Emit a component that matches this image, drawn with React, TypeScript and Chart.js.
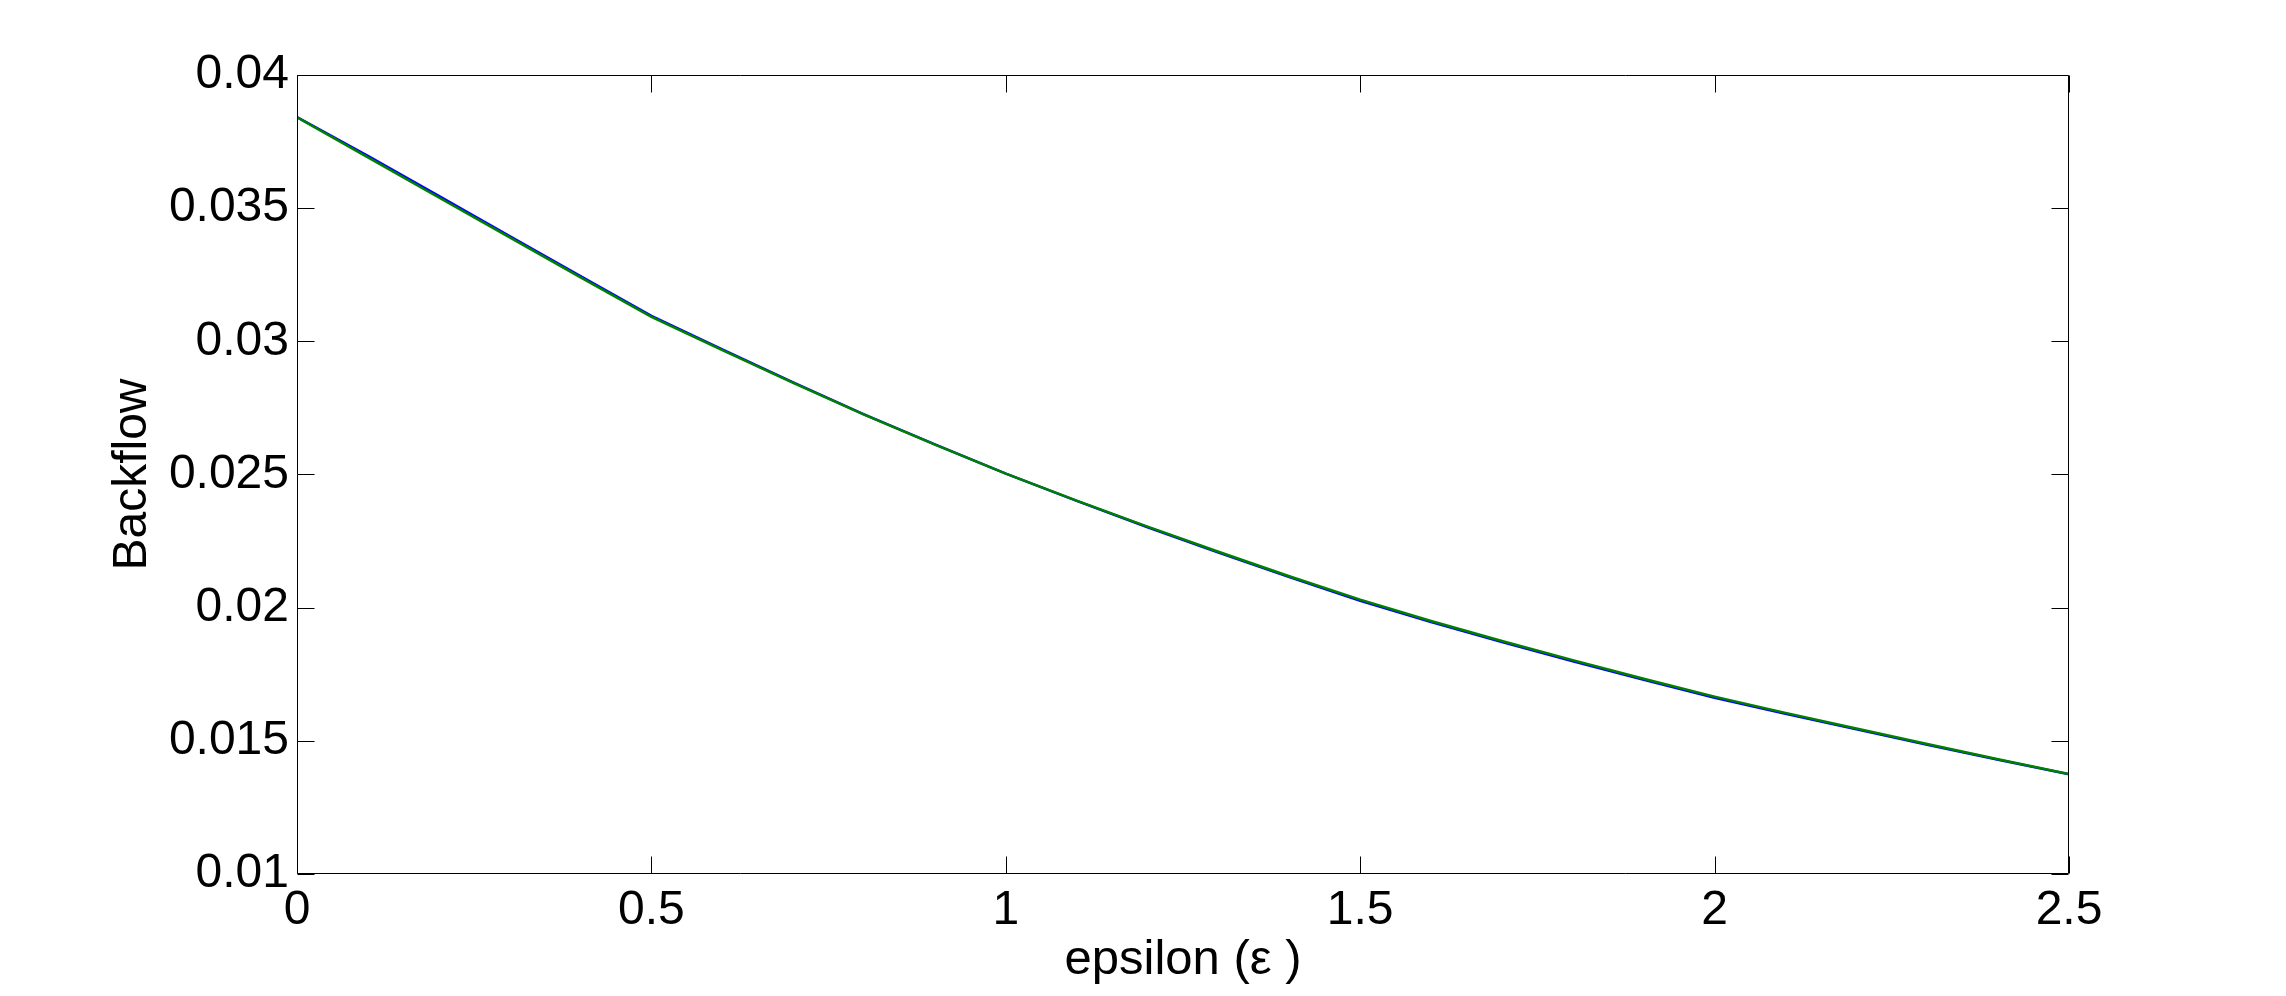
import React, { useEffect, useRef } from 'react';
import { Chart, registerables } from 'chart.js';

Chart.register(...registerables);

const xValues = [0, 0.1, 0.2, 0.3, 0.4, 0.5, 0.6, 0.7, 0.8, 0.9, 1.0, 1.1, 1.2, 1.3, 1.4, 1.5, 1.6, 1.7, 1.8, 1.9, 2.0, 2.1, 2.2, 2.3, 2.4, 2.5];

const blueSeries = [
  0.03842, 0.03696, 0.03546, 0.03395, 0.03245, 0.03096, 0.0297, 0.02846, 0.02726, 0.02613,
  0.02503, 0.02401, 0.02302, 0.02207, 0.02115, 0.02026, 0.01946, 0.01871, 0.01799, 0.01729,
  0.01662, 0.01602, 0.01543, 0.01485, 0.01429, 0.01374,
];

const greenSeries = [
  0.03841, 0.03691, 0.0354, 0.0339, 0.0324, 0.03092, 0.02967, 0.02844, 0.02725, 0.02612,
  0.02503, 0.02402, 0.02304, 0.0221, 0.02118, 0.0203, 0.0195, 0.01875, 0.01803, 0.01733,
  0.01666, 0.01605, 0.01546, 0.01488, 0.01431, 0.01375,
];

const xTickLabels = ['0', '0.5', '1', '1.5', '2', '2.5'];
const yTickLabels = ['0.01', '0.015', '0.02', '0.025', '0.03', '0.035', '0.04'];
const xTitle = 'epsilon (\u03b5 )';
const yTitle = 'Backflow';

const FONT = "'Liberation Sans', Arial, Helvetica, sans-serif";

const framePlugin = {
  id: 'matlabFrame',
  afterDraw(chart: any) {
    const { ctx, chartArea, scales } = chart;
    const { left, right, top, bottom } = chartArea;
    const x = scales.x;
    const y = scales.y;
    const L = Math.round(left) + 0.5;
    const R = Math.round(right) - 0.5;
    const T = Math.round(top) + 0.5;
    const B = Math.round(bottom) - 0.5;
    const tickLen = 17;
    ctx.save();
    ctx.strokeStyle = '#000';
    ctx.lineWidth = 1;
    ctx.beginPath();
    ctx.rect(L, T, R - L, B - T);
    ctx.stroke();
    ctx.beginPath();
    x.ticks.forEach((t: any) => {
      const px = Math.round(x.getPixelForValue(t.value)) + 0.5;
      ctx.moveTo(px, B);
      ctx.lineTo(px, B - tickLen);
      ctx.moveTo(px, T);
      ctx.lineTo(px, T + tickLen);
    });
    y.ticks.forEach((t: any) => {
      const py = Math.round(y.getPixelForValue(t.value)) + 0.5;
      ctx.moveTo(L, py);
      ctx.lineTo(L + tickLen, py);
      ctx.moveTo(R, py);
      ctx.lineTo(R - tickLen, py);
    });
    ctx.stroke();
    ctx.restore();
  },
};

export default function App() {
  const canvasRef = useRef<HTMLCanvasElement | null>(null);

  useEffect(() => {
    document.body.style.margin = '0';
    const canvas = canvasRef.current;
    if (!canvas) return;
    const blueData = xValues.map((xv, i) => ({ x: xv, y: blueSeries[i] }));
    const greenData = xValues.map((xv, i) => ({ x: xv, y: greenSeries[i] }));
    const chart = new Chart(canvas, {
      type: 'line',
      data: {
        datasets: [
          {
            label: 'series 1',
            data: blueData,
            borderColor: '#0000ff',
            backgroundColor: '#0000ff',
            borderWidth: 2.5,
            pointRadius: 0,
            tension: 0,
            fill: false,
            order: 1,
          },
          {
            label: 'series 2',
            data: greenData,
            borderColor: '#008000',
            backgroundColor: '#008000',
            borderWidth: 2.5,
            pointRadius: 0,
            tension: 0,
            fill: false,
            order: 0,
          },
        ],
      },
      options: {
        animation: false,
        responsive: false,
        devicePixelRatio: 1,
        layout: { padding: { left: 0, top: 75, right: 217, bottom: 0 } },
        plugins: {
          legend: { display: false },
          tooltip: { enabled: false },
          title: { display: false },
        },
        scales: {
          x: {
            type: 'linear',
            min: 0,
            max: 2.5,
            grid: { display: false, drawTicks: false },
            border: { display: false },
            ticks: {
              stepSize: 0.5,
              autoSkip: false,
              maxRotation: 0,
              padding: 8,
              color: '#000',
              font: { family: FONT, size: 48 },
              callback: (v: any) => {
                const lab = xTickLabels.find((l) => Math.abs(Number(l) - Number(v)) < 1e-9);
                return lab ?? '';
              },
            },
            title: {
              display: true,
              text: xTitle,
              color: '#000',
              font: { family: FONT, size: 49 },
              padding: { top: 0, bottom: 6 },
            },
            afterFit: (scale: any) => {
              scale.height = 122;
            },
          },
          y: {
            type: 'linear',
            min: 0.01,
            max: 0.04,
            grid: { display: false, drawTicks: false },
            border: { display: false },
            ticks: {
              stepSize: 0.005,
              autoSkip: false,
              padding: 8,
              color: '#000',
              font: { family: FONT, size: 48 },
              callback: (v: any) => {
                const lab = yTickLabels.find((l) => Math.abs(Number(l) - Number(v)) < 1e-9);
                return lab ?? '';
              },
            },
            title: {
              display: true,
              text: yTitle,
              color: '#000',
              font: { family: FONT, size: 48 },
              padding: { top: 104, bottom: 0 },
            },
            afterFit: (scale: any) => {
              scale.width = 297;
            },
          },
        },
      },
      plugins: [framePlugin],
    });
    return () => {
      chart.destroy();
    };
  }, []);

  return (
    <div style={{ position: 'absolute', left: 0, top: 0, width: 2286, height: 996, background: '#fff' }}>
      <canvas ref={canvasRef} width={2286} height={996} style={{ display: 'block' }} />
    </div>
  );
}
